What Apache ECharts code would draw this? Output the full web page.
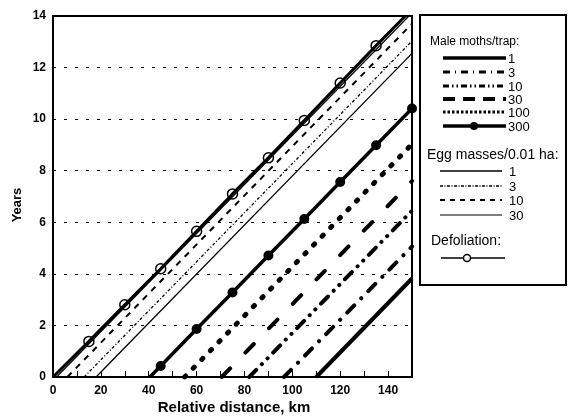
<!DOCTYPE html>
<html><head><meta charset="utf-8">
<script src="https://cdn.jsdelivr.net/npm/echarts@6/dist/echarts.min.js"></script>
<style>html,body{margin:0;padding:0;background:#fff}#c{width:568px;height:417px}</style>
</head><body><div id="c"></div>
<script>
// ---- tick labels ----
const xLabels = [0, 20, 40, 60, 80, 100, 120, 140];
const yLabels = [0, 2, 4, 6, 8, 10, 12, 14];

// ---- Defoliation (open circles) ----
const defolX = [0, 15, 30, 45, 60, 75, 90, 105, 120, 135, 147.2];
const defolY = [0, 1.38, 2.8, 4.2, 5.65, 7.1, 8.5, 9.95, 11.4, 12.85, 14];
const defolMarkX = [15, 30, 45, 60, 75, 90, 105, 120, 135];

// ---- Egg masses / 0.01 ha ----
const egg1X = [18, 150],  egg1Y = [0, 12.55];
const egg3X = [13, 150],  egg3Y = [0, 13.03];
const egg10X = [6, 150],  egg10Y = [0, 13.7];
const egg30X = [1.5, 148.7], egg30Y = [0, 14];

// ---- Male moths / trap ----
const male1X = [110, 150],   male1Y = [0, 3.82];
const male3X = [96.5, 150],  male3Y = [0, 5.06];
const male10X = [82, 150],   male10Y = [0, 6.45];
const male30X = [70.5, 150], male30Y = [0, 7.6];
const male100X = [55, 150],  male100Y = [0, 9.03];
const male300X = [40.5, 45, 60, 75, 90, 105, 120, 135, 150];
const male300Y = [0, 0.43, 1.86, 3.28, 4.71, 6.13, 7.56, 8.99, 10.41];
const male300MarkX = [45, 60, 75, 90, 105, 120, 135, 150];

const FONT = '"Liberation Sans", Arial, Helvetica, sans-serif';

function pts(xs, ys, marks) {
  return xs.map((x, i) => {
    const item = { value: [x, ys[i]] };
    if (!marks || marks.indexOf(x) < 0) item.symbol = 'none';
    return item;
  });
}
function lineSeries(xs, ys, width, dash, cap, z) {
  return {
    type: 'line', data: pts(xs, ys), symbol: 'none', z: z || 2,
    lineStyle: { color: '#000', width: width, type: dash || 'solid', cap: cap || 'butt' },
    animation: false, silent: true
  };
}

const series = [
  lineSeries(male1X, male1Y, 4, 'solid'),
  lineSeries(male3X, male3Y, 4, [10, 10, 0.1, 10], 'round'),
  lineSeries(male10X, male10Y, 4, [10, 8, 0.1, 8, 0.1, 8], 'round'),
  lineSeries(male30X, male30Y, 4, [12, 22], 'round'),
  lineSeries(male100X, male100Y, 5, [1.5, 10.8], 'round'),
  {
    type: 'line', data: pts(male300X, male300Y, male300MarkX), symbol: 'circle', symbolSize: 10,
    lineStyle: { color: '#000', width: 3.5 }, itemStyle: { color: '#000' },
    animation: false, silent: true, z: 3
  },
  lineSeries(egg1X, egg1Y, 1.3, 'solid'),
  lineSeries(egg3X, egg3Y, 1.3, [3, 2, 1, 2]),
  lineSeries(egg10X, egg10Y, 2, [6, 6]),
  lineSeries(egg30X, egg30Y, 1.2, 'solid'),
  {
    type: 'line', data: pts(defolX, defolY, defolMarkX), symbol: 'circle', symbolSize: 10,
    lineStyle: { color: '#000', width: 3 },
    itemStyle: { color: 'rgba(0,0,0,0)', borderColor: '#000', borderWidth: 1.5 },
    animation: false, silent: true, z: 4
  }
];

// ---- legend (drawn) ----
const g = [];
function gtext(t, x, y, size) {
  g.push({
    type: 'text', x: x, y: y, silent: true,
    style: { text: t, fontSize: size, fontFamily: FONT, fill: '#000', align: 'left', verticalAlign: 'middle' }
  });
}
function gline(x1, x2, y, w, dash, cap) {
  g.push({ type: 'line', silent: true, shape: { x1: x1, y1: y, x2: x2, y2: y },
    style: { stroke: '#000', lineWidth: w, lineDash: dash || null, lineCap: cap || 'butt' } });
}
g.push({ type: 'rect', silent: true, shape: { x: 420, y: 15, width: 146, height: 270 },
  style: { fill: 'none', stroke: '#000', lineWidth: 2 } });

gtext('Male moths/trap:', 430, 42, 12);
const mRows = [58, 72, 86, 99, 112, 126];
const mLab = ['1', '3', '10', '30', '100', '300'];
gline(443, 506, mRows[0], 3.5);
gline(443, 506, mRows[1], 3, [7, 5, 1, 5]);
gline(443, 506, mRows[2], 3, [6, 3, 1.5, 3, 1.5, 3]);
gline(443, 506, mRows[3], 4, [12, 8]);
gline(443, 506, mRows[4], 3, [2.5, 2]);
gline(443, 506, mRows[5], 3.5);
g.push({ type: 'circle', silent: true, shape: { cx: 474, cy: mRows[5], r: 4 }, style: { fill: '#000' } });
mRows.forEach((y, i) => gtext(mLab[i], 508, y + 1, 13));

gtext('Egg masses/0.01 ha:', 427, 155, 14);
const eRows = [171, 186, 200, 215];
const eLab = ['1', '3', '10', '30'];
gline(440, 502, eRows[0], 1.5);
gline(440, 502, eRows[1], 1.3, [3, 1.5, 1, 1.5]);
gline(440, 502, eRows[2], 2, [5, 5]);
gline(440, 502, eRows[3], 1.1);
eRows.forEach((y, i) => gtext(eLab[i], 509, y + 1, 13));

gtext('Defoliation:', 431, 241, 14);
gline(441, 505, 258, 1.5);
g.push({ type: 'circle', silent: true, shape: { cx: 467, cy: 258, r: 3.5 }, style: { fill: '#fff', stroke: '#000', lineWidth: 1.5 } });

// axis titles
g.push({ type: 'text', x: 17, y: 205, rotation: Math.PI / 2, silent: true,
  style: { text: 'Years', fontSize: 13, fontWeight: 'bold', fontFamily: FONT, fill: '#000', align: 'center', verticalAlign: 'middle' } });
g.push({ type: 'text', x: 234, y: 408, silent: true,
  style: { text: 'Relative distance, km', fontSize: 15, fontWeight: 'bold', fontFamily: FONT, fill: '#000', align: 'center', verticalAlign: 'middle' } });

const chart = echarts.init(document.getElementById('c'), null, { renderer: 'canvas' });
chart.setOption({
  animation: false,
  backgroundColor: '#fff',
  grid: { left: 53, right: 156, top: 16, bottom: 40, show: true, borderColor: '#000', borderWidth: 2, backgroundColor: 'transparent' },
  xAxis: {
    type: 'value', min: 0, max: 150, interval: 10,
    axisLine: { lineStyle: { color: '#000', width: 2 } },
    axisTick: { inside: true, length: 6, lineStyle: { color: '#000', width: 1 } },
    axisLabel: { color: '#000', fontFamily: FONT, fontWeight: 'bold', fontSize: 12, margin: 8,
      formatter: v => (xLabels.indexOf(v) >= 0 ? String(v) : '') },
    splitLine: { show: false }
  },
  yAxis: {
    type: 'value', min: 0, max: 14, interval: 2,
    axisLine: { show: true, lineStyle: { color: '#000', width: 2 } },
    axisTick: { show: false },
    axisLabel: { color: '#000', fontFamily: FONT, fontWeight: 'bold', fontSize: 12, margin: 7,
      formatter: v => (yLabels.indexOf(v) >= 0 ? String(v) : '') },
    splitLine: { show: true, lineStyle: { color: '#000', width: 1.2, type: [3, 8] } }
  },
  series: series,
  graphic: g
});
</script>
</body></html>
